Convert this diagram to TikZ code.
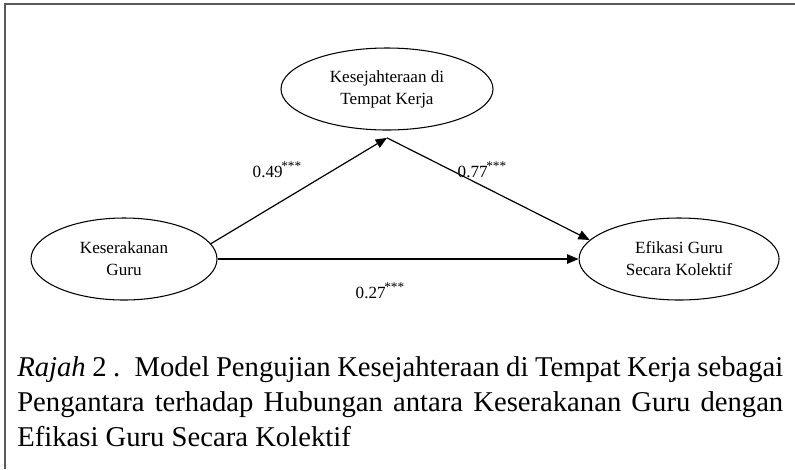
\documentclass[tikz,border=0pt]{standalone}
\usepackage{fontspec}
\setmainfont{Liberation Serif}
\usetikzlibrary{positioning,shapes.geometric,arrows.meta}

\newcommand{\sigstars}{\kern-1pt\raisebox{0.42em}{\fontsize{10}{10}\selectfont***}}

\begin{document}
\begin{tikzpicture}[
        x=0.75pt, y=-0.75pt,
        latent/.style={ellipse, draw, line width=0.8pt, minimum height=61.5pt, align=center, inner sep=0pt, font=\fontsize{12.8}{16.5}\selectfont},
        arrow/.style={-{Triangle[length=8.5pt,width=7pt]}, line width=0.9pt},
        coef/.style={font=\fontsize{12.8}{15}\selectfont, inner sep=0pt},
        caption/.style={text width=574.5pt, align=justify, inner sep=0pt, font=\fontsize{21.5}{26.25}\selectfont},
        frame/.style={draw=black!65, line width=1.5pt}
    ]

    \useasboundingbox (0,0) rectangle (795,469);
    \draw[frame] (5,469) -- (5,4) -- (795,4);

    % Define nodes
    \node[latent, minimum width=139.5pt] (kg) at (124,259) {Keserakanan\\Guru};
    \node[latent, minimum width=150pt] (egk) [right=270.75pt of kg] {Efikasi Guru\\Secara Kolektif};
    \node[latent, minimum width=159pt] (ktk) at (387,89) {Kesejahteraan di\\Tempat Kerja};
    \coordinate (mid) at ([yshift=-5.5pt]ktk.south);

    % Coefficients
    \node[coef] (b1) at (277,170) {0.49\sigstars};
    \node[coef] (b2) at (482,170) {0.77\sigstars};
    \node[coef] (b3) at (380,291) {0.27\sigstars};

    % Define connections
    \draw[arrow] (kg.10) -- (mid);
    \draw[arrow] (mid) -- (egk.168);
    \draw[arrow] (kg.east) -- (egk.west);

    % Caption
    \node[caption, anchor=north west] (cap) at (17,356) {\textit{Rajah} 2 .\enspace Model Pengujian Kesejahteraan di Tempat Kerja sebagai\linebreak Pengantara terhadap Hubungan antara Keserakanan Guru dengan\linebreak Efikasi Guru Secara Kolektif};

\end{tikzpicture}
\end{document}
